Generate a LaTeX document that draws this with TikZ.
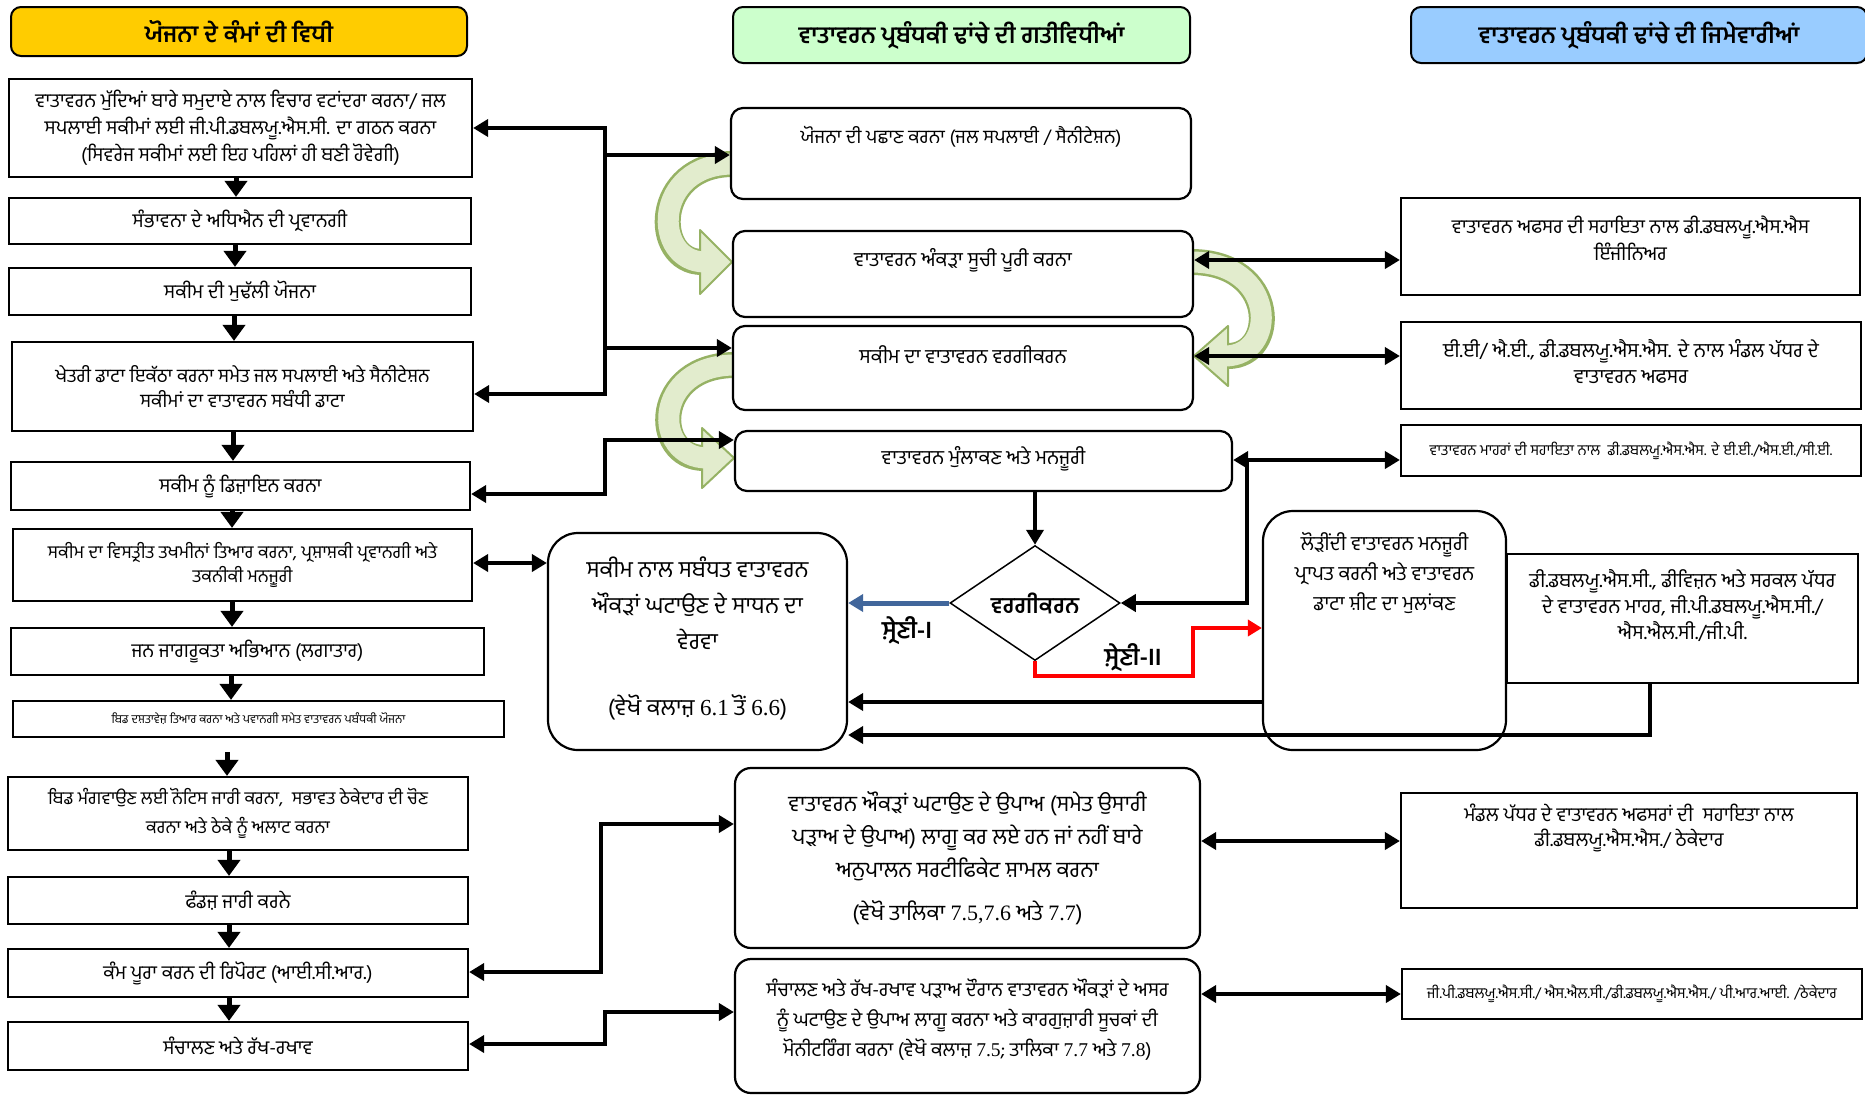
\documentclass[tikz,border=0pt]{standalone}
\usepackage{fontspec}
\setmainfont[Script=Gurmukhi]{Hind Jalandhar}
\newfontfamily\tms{Liberation Serif}
\usetikzlibrary{arrows.meta,shapes.geometric}
\definecolor{hyel}{RGB}{255,204,0}
\definecolor{hgrn}{RGB}{204,255,204}
\definecolor{hblu}{RGB}{153,204,255}
\definecolor{glight}{RGB}{226,236,205}
\definecolor{gdark}{RGB}{150,178,100}
\definecolor{catblue}{RGB}{65,102,155}
\definecolor{catred}{RGB}{255,0,0}
\tikzset{
  fs/.style 2 args={font=\fontsize{#1}{#2}\selectfont},
  box/.style={draw=black, line width=2.2pt, fill=white, inner sep=0pt, align=center},
  rbox/.style={box, rounded corners=12pt},
  bigr/.style={box, rounded corners=30pt},
  hdr/.style={draw=black, line width=2pt, rounded corners=10pt, inner sep=0pt, font=\bfseries\fontsize{23.5}{27}\selectfont},
  txt/.style={inner sep=0pt, align=center},
  darr/.style={line width=5pt, -{Triangle[length=16pt,width=22pt]}},
  carr/.style={line width=4.5pt, -{Triangle[length=15pt,width=17pt]}},
  dbl/.style={line width=4.5pt, {Triangle[length=15pt,width=17pt]}-{Triangle[length=15pt,width=17pt]}},
  band/.style={gdark, line width=26pt},
  bandin/.style={glight, line width=21pt},
  ghead/.style={fill=glight, draw=gdark, line width=2pt, line join=round},
  lbl/.style={txt, font=\bfseries\fontsize{24}{28}\selectfont},
}
\begin{document}
\begin{tikzpicture}[x=1pt,y=-1pt,font=\fontsize{19.5}{25}\selectfont]
\useasboundingbox (0,0) rectangle (1865,1096);
\fill[white] (0,0) rectangle (1865,1096);

% ---- green curved arrows (behind boxes)
\draw[band] (733,164) .. controls (652,164) and (652,262) .. (702,262);
\filldraw[ghead] (732,262) -- (700,230) -- (700,294) -- cycle;
\draw[bandin] (733,164) .. controls (652,164) and (652,262) .. (705,262);

\draw[band] (735,365) .. controls (652,365) and (652,458) .. (704,458);
\filldraw[ghead] (734,458) -- (702,428) -- (702,488) -- cycle;
\draw[bandin] (735,365) .. controls (652,365) and (652,458) .. (707,458);

\draw[band] (1191,262) .. controls (1278,262) and (1278,356) .. (1228,356);
\filldraw[ghead] (1194,356) -- (1228,326) -- (1228,386) -- cycle;
\draw[bandin] (1191,262) .. controls (1278,262) and (1278,356) .. (1225,356);

% ---- headers
\node[hdr, fill=hyel, minimum width=456pt, minimum height=49pt] (H1) at (239,31.5) {ਯੋਜਨਾ ਦੇ ਕੰਮਾਂ ਦੀ ਵਿਧੀ};
\node[hdr, fill=hgrn, minimum width=457pt, minimum height=56pt] (H2) at (961.5,35) {ਵਾਤਾਵਰਨ ਪ੍ਰਬੰਧਕੀ ਢਾਂਚੇ ਦੀ ਗਤੀਵਿਧੀਆਂ};
\node[hdr, fill=hblu, minimum width=456pt, minimum height=56pt] (H3) at (1639,35) {ਵਾਤਾਵਰਨ ਪ੍ਰਬੰਧਕੀ ਢਾਂਚੇ ਦੀ ਜਿਮੇਵਾਰੀਆਂ};

% ---- left column
\node[box, minimum width=463pt, minimum height=98pt, fs={19.5}{27}] (L1) at (240.5,128) {ਵਾਤਾਵਰਨ ਮੁੱਦਿਆਂ ਬਾਰੇ ਸਮੁਦਾਏ ਨਾਲ ਵਿਚਾਰ ਵਟਾਂਦਰਾ ਕਰਨਾ/ ਜਲ\\ ਸਪਲਾਈ ਸਕੀਮਾਂ ਲਈ ਜੀ.ਪੀ.ਡਬਲਯੂ.ਐਸ.ਸੀ. ਦਾ ਗਠਨ ਕਰਨਾ\\ (ਸਿਵਰੇਜ ਸਕੀਮਾਂ ਲਈ ਇਹ ਪਹਿਲਾਂ ਹੀ ਬਣੀ ਹੋਵੇਗੀ)};
\node[box, minimum width=462pt, minimum height=46pt] (L2) at (240,221) {ਸੰਭਾਵਨਾ ਦੇ ਅਧਿਐਨ ਦੀ ਪ੍ਰਵਾਨਗੀ};
\node[box, minimum width=462pt, minimum height=47pt] (L3) at (240,291.5) {ਸਕੀਮ ਦੀ ਮੁਢੱਲੀ ਯੋਜਨਾ};
\node[box, minimum width=461pt, minimum height=89pt, fs={19}{25}] (L4) at (242.5,386.5) {ਖੇਤਰੀ ਡਾਟਾ ਇਕੱਠਾ ਕਰਨਾ ਸਮੇਤ ਜਲ ਸਪਲਾਈ ਅਤੇ ਸੈਨੀਟੇਸ਼ਨ\\ ਸਕੀਮਾਂ ਦਾ ਵਾਤਾਵਰਨ ਸਬੰਧੀ ਡਾਟਾ};
\node[box, minimum width=459pt, minimum height=48pt] (L5) at (240.5,486) {ਸਕੀਮ ਨੂੰ ਡਿਜ਼ਾਇਨ ਕਰਨਾ};
\node[box, minimum width=459pt, minimum height=72pt, fs={18}{24}] (L6) at (242.5,565) {ਸਕੀਮ ਦਾ ਵਿਸਤ੍ਰੀਤ ਤਖਮੀਨਾਂ ਤਿਆਰ ਕਰਨਾ, ਪ੍ਰਸ਼ਾਸ਼ਕੀ ਪ੍ਰਵਾਨਗੀ ਅਤੇ\\ ਤਕਨੀਕੀ ਮਨਜ਼ੂਰੀ};
\node[box, minimum width=473pt, minimum height=47pt] (L7) at (247.5,651.5) {ਜਨ ਜਾਗਰੂਕਤਾ ਅਭਿਆਨ (ਲਗਾਤਾਰ)};
\node[box, minimum width=491pt, minimum height=36pt, fs={12}{14}] (L8) at (258.5,719) {ਬਿਡ ਦਸ਼ਤਾਵੇਜ਼ ਤਿਆਰ ਕਰਨਾ ਅਤੇ ਪਵਾਨਗੀ ਸਮੇਤ ਵਾਤਾਵਰਨ ਪਬੰਧਕੀ ਯੋਜਨਾ};
\node[box, minimum width=460pt, minimum height=73pt, fs={18}{29}] (L9) at (238,813.5) {ਬਿਡ ਮੰਗਵਾਉਣ ਲਈ ਨੋਟਿਸ ਜਾਰੀ ਕਰਨਾ,\ \ ਸਭਾਵਤ ਠੇਕੇਦਾਰ ਦੀ ਚੋਣ\\ ਕਰਨਾ ਅਤੇ ਠੇਕੇ ਨੂੰ ਅਲਾਟ ਕਰਨਾ};
\node[box, minimum width=460pt, minimum height=47pt] (L10) at (238,900.5) {ਫੰਡਜ਼ ਜਾਰੀ ਕਰਨੇ};
\node[box, minimum width=460pt, minimum height=48pt] (L11) at (238,973) {ਕੰਮ ਪੂਰਾ ਕਰਨ ਦੀ ਰਿਪੋਰਟ (ਆਈ.ਸੀ.ਆਰ.)};
\node[box, minimum width=460pt, minimum height=48pt] (L12) at (238,1046) {ਸੰਚਾਲਣ ਅਤੇ ਰੱਖ-ਰਖਾਵ};

\coordinate (b89) at (227,752);
\draw[darr] (236,0 |- L1.south) -- (236,0 |- L2.north);
\draw[darr] (235,0 |- L2.south) -- (235,0 |- L3.north);
\draw[darr] (234,0 |- L3.south) -- (234,0 |- L4.north);
\draw[darr] (233,0 |- L4.south) -- (233,0 |- L5.north);
\draw[darr] (232,0 |- L5.south) -- (232,0 |- L6.north);
\draw[darr] (232,0 |- L6.south) -- (232,0 |- L7.north);
\draw[darr] (231,0 |- L7.south) -- (231,0 |- L8.north);
\draw[darr] (b89) -- (b89 |- L9.north);
\draw[darr] (229,0 |- L9.south) -- (229,0 |- L10.north);
\draw[darr] (229,0 |- L10.south) -- (229,0 |- L11.north);
\draw[darr] (229,0 |- L11.south) -- (229,0 |- L12.north);

% ---- middle column
\node[rbox, minimum width=460pt, minimum height=91pt] (M1) at (961,153.5) {};
\node[txt, fs={19}{25}] (M1t) at (M1.north |- 0,137) {ਯੋਜਨਾ ਦੀ ਪਛਾਣ ਕਰਨਾ (ਜਲ ਸਪਲਾਈ / ਸੈਨੀਟੇਸ਼ਨ)};
\node[rbox, minimum width=460pt, minimum height=86pt] (M2) at (963,274) {};
\node[txt, fs={20}{25}] (M2t) at (M2.north |- 0,260) {ਵਾਤਾਵਰਨ ਅੰਕੜਾ ਸੂਚੀ ਪੂਰੀ ਕਰਨਾ};
\node[rbox, minimum width=460pt, minimum height=84pt] (M3) at (963,368) {};
\node[txt, fs={20}{25}] (M3t) at (M3.north |- 0,355) {ਸਕੀਮ ਦਾ ਵਾਤਾਵਰਨ ਵਰਗੀਕਰਨ};
\node[rbox, minimum width=497pt, minimum height=60pt] (M4) at (983.5,461) {};
\node[txt, fs={20}{25}] (M4t) at (M4.north |- 0,459) {ਵਾਤਾਵਰਨ ਮੁੰਲਾਕਣ ਅਤੇ ਮਨਜ਼ੂਰੀ};

\node[bigr, minimum width=299pt, minimum height=217pt] (R) at (697.5,641.5) {};
\node[txt, fs={23}{36}] (Rt) at (R.north |- 0,638) {ਸਕੀਮ ਨਾਲ ਸਬੰਧਤ ਵਾਤਾਵਰਨ\\ ਔਕੜਾਂ ਘਟਾਉਣ ਦੇ ਸਾਧਨ ਦਾ\\ ਵੇਰਵਾ\\[30pt] (ਵੇਖੋ ਕਲਾਜ਼ {\tms 6.1} ਤੋਂ {\tms 6.6})};

\node[draw, diamond, line width=1.5pt, fill=white, minimum width=170pt, minimum height=115pt, inner sep=0pt, font=\bfseries\fontsize{22.5}{26}\selectfont] (D) at (1035,603) {ਵਰਗੀਕਰਨ};
\node[lbl] (c1) at (907,631) {ਸ਼੍ਰੇਣੀ-I};
\node[lbl] (c2) at (1133,658) {ਸ਼੍ਰੇਣੀ-II};

\node[bigr, fill=none, minimum width=243pt, minimum height=239pt] (Q) at (1384.5,630.5) {};
\node[txt, fs={20}{30}] (Qt) at (Q.north |- 0,573.5) {ਲੋੜੀਂਦੀ ਵਾਤਾਵਰਨ ਮਨਜ਼ੂਰੀ\\ ਪ੍ਰਾਪਤ ਕਰਨੀ ਅਤੇ ਵਾਤਾਵਰਨ\\ ਡਾਟਾ ਸ਼ੀਟ ਦਾ ਮੁਲਾਂਕਣ};
\node[box, fill=none, minimum width=351pt, minimum height=129pt] (P) at (1682.5,618.5) {};
\node[txt, fs={20}{26}] (Pt) at (P.north |- 0,606) {ਡੀ.ਡਬਲਯੂ.ਐਸ.ਸੀ., ਡੀਵਿਜ਼ਨ ਅਤੇ ਸਰਕਲ ਪੱਧਰ\\ ਦੇ ਵਾਤਾਵਰਨ ਮਾਹਰ, ਜੀ.ਪੀ.ਡਬਲਯੂ.ਐਸ.ਸੀ./\\ ਐਸ.ਐਲ.ਸੀ./ਜੀ.ਪੀ.};

\node[rbox, rounded corners=16pt, minimum width=465pt, minimum height=180pt] (MB1) at (967.5,858) {};
\node[txt, fs={22}{33}] (MB1t) at (MB1.north |- 0,858) {ਵਾਤਾਵਰਨ ਔਕੜਾਂ ਘਟਾਉਣ ਦੇ ਉਪਾਅ (ਸਮੇਤ ਉਸਾਰੀ\\ ਪੜਾਅ ਦੇ ਉਪਾਅ) ਲਾਗੂ ਕਰ ਲਏ ਹਨ ਜਾਂ ਨਹੀਂ ਬਾਰੇ\\ ਅਨੁਪਾਲਨ ਸਰਟੀਫਿਕੇਟ ਸ਼ਾਮਲ ਕਰਨਾ\\[10pt] (ਵੇਖੋ ਤਾਲਿਕਾ {\tms 7.5,7.6} ਅਤੇ {\tms 7.7})};
\node[rbox, rounded corners=16pt, minimum width=465pt, minimum height=134pt] (MB2) at (967.5,1026) {};
\node[txt, fs={19.5}{30}] (MB2t) at (MB2.north |- 0,1020) {ਸੰਚਾਲਣ ਅਤੇ ਰੱਖ-ਰਖਾਵ ਪੜਾਅ ਦੌਰਾਨ ਵਾਤਾਵਰਨ ਔਕੜਾਂ ਦੇ ਅਸਰ\\ ਨੂੰ ਘਟਾਉਣ ਦੇ ਉਪਾਅ ਲਾਗੂ ਕਰਨਾ ਅਤੇ ਕਾਰਗੁਜ਼ਾਰੀ ਸੂਚਕਾਂ ਦੀ\\ ਮੋਨੀਟਰਿੰਗ ਕਰਨਾ (ਵੇਖੋ ਕਲਾਜ਼ {\tms 7.5}; ਤਾਲਿਕਾ {\tms 7.7} ਅਤੇ {\tms 7.8})};

% ---- right column
\node[box, minimum width=459pt, minimum height=97pt] (RB1) at (1630.5,246.5) {};
\node[txt, fs={19.5}{27}] (RB1t) at (RB1.north |- 0,238.5) {ਵਾਤਾਵਰਨ ਅਫਸਰ ਦੀ ਸਹਾਇਤਾ ਨਾਲ ਡੀ.ਡਬਲਯੂ.ਐਸ.ਐਸ\\ ਇੰਜੀਨਿਅਰ};
\node[box, minimum width=460pt, minimum height=87pt] (RB2) at (1631,365.5) {};
\node[txt, fs={20}{26}] (RB2t) at (RB2.north |- 0,362) {ਈ.ਈ/ ਐ.ਈ., ਡੀ.ਡਬਲਯੂ.ਐਸ.ਐਸ. ਦੇ ਨਾਲ ਮੰਡਲ ਪੱਧਰ ਦੇ\\ ਵਾਤਾਵਰਨ ਅਫਸਰ};
\node[box, minimum width=460pt, minimum height=51pt, fs={15}{18}] (RB3) at (1631,450.5) {ਵਾਤਾਵਰਨ ਮਾਹਰਾਂ ਦੀ ਸਹਾਇਤਾ ਨਾਲ\ \ ਡੀ.ਡਬਲਯੂ.ਐਸ.ਐਸ. ਦੇ ਈ.ਈ./ਐਸ.ਈ./ਸੀ.ਈ.};
\node[box, minimum width=456pt, minimum height=115pt] (RB4) at (1629,850.5) {};
\node[txt, fs={19.5}{25}] (RB4t) at (RB4.north |- 0,828) {ਮੰਡਲ ਪੱਧਰ ਦੇ ਵਾਤਾਵਰਨ ਅਫਸਰਾਂ ਦੀ\ \ ਸਹਾਇਤਾ ਨਾਲ\\ ਡੀ.ਡਬਲਯੂ.ਐਸ.ਐਸ./ ਠੇਕੇਦਾਰ};
\node[box, minimum width=460pt, minimum height=50pt, fs={15}{18}] (RB5) at (1632,994) {ਜੀ.ਪੀ.ਡਬਲਯੂ.ਐਸ.ਸੀ./ ਐਸ.ਐਲ.ਸੀ./ਡੀ.ਡਬਲਯੂ.ਐਸ.ਐਸ./ ਪੀ.ਆਰ.ਆਈ. /ਠੇਕੇਦਾਰ};

% ---- connectors left <-> middle
\coordinate (a1) at (605,128);
\coordinate (a2) at (605,155);
\coordinate (a3) at (605,348);
\coordinate (a4) at (605,394);
\draw[dbl] (L1.east |- a1) -- (a1) -- (a4) -- (L4.east |- a4);
\draw[carr] (a2) -- (M1.west |- a2);
\draw[carr] (a3) -- (M3.west |- a3);
\coordinate (b1) at (605,440);
\coordinate (b2) at (605,494);
\draw[dbl] (M4.west |- b1) -- (b1) -- (b2) -- (L5.east |- b2);
\draw[dbl] (L6.east |- 0,563) -- (R.west |- 0,563);
\coordinate (d1) at (601,824);
\coordinate (d2) at (601,972);
\draw[dbl] (MB1.west |- d1) -- (d1) -- (d2) -- (L11.east |- d2);
\coordinate (e1) at (605,1012);
\coordinate (e2) at (605,1044);
\draw[dbl] (MB2.west |- e1) -- (e1) -- (e2) -- (L12.east |- e2);

% ---- middle <-> right
\draw[dbl] (M2.east |- 0,260) -- (RB1.west |- 0,260);
\draw[dbl] (M3.east |- 0,356) -- (RB2.west |- 0,356);
\draw[dbl] (MB1.east |- 0,841) -- (RB4.west |- 0,841);
\draw[dbl] (MB2.east |- 0,994) -- (RB5.west |- 0,994);

\coordinate (j) at (1247,460);
\coordinate (j2) at (1247,603);
\draw[dbl] (M4.east |- j) -- (RB3.west |- j);
\draw[carr] (j) -- (j2) -- (D.east);
\draw[carr] (D.north |- M4.south) -- (D.north);
\draw[line width=5pt, catblue, -{Triangle[length=15pt,width=17pt]}] (D.west) -- (R.east |- D.west);
\coordinate (r1) at (1035,676);
\coordinate (r2) at (1193,676);
\coordinate (r3) at (1193,628);
\draw[line width=4pt, catred, -{Triangle[length=14pt,width=16pt]}] (D.south) -- (r1) -- (r2) -- (r3) -- (Q.west |- r3);
\draw[carr] (Q.west |- 0,702) -- (R.east |- 0,702);
\coordinate (p1) at (1650,735);
\draw[carr] (P.south -| p1) -- (p1) -- (R.east |- p1);
\end{tikzpicture}
\end{document}
